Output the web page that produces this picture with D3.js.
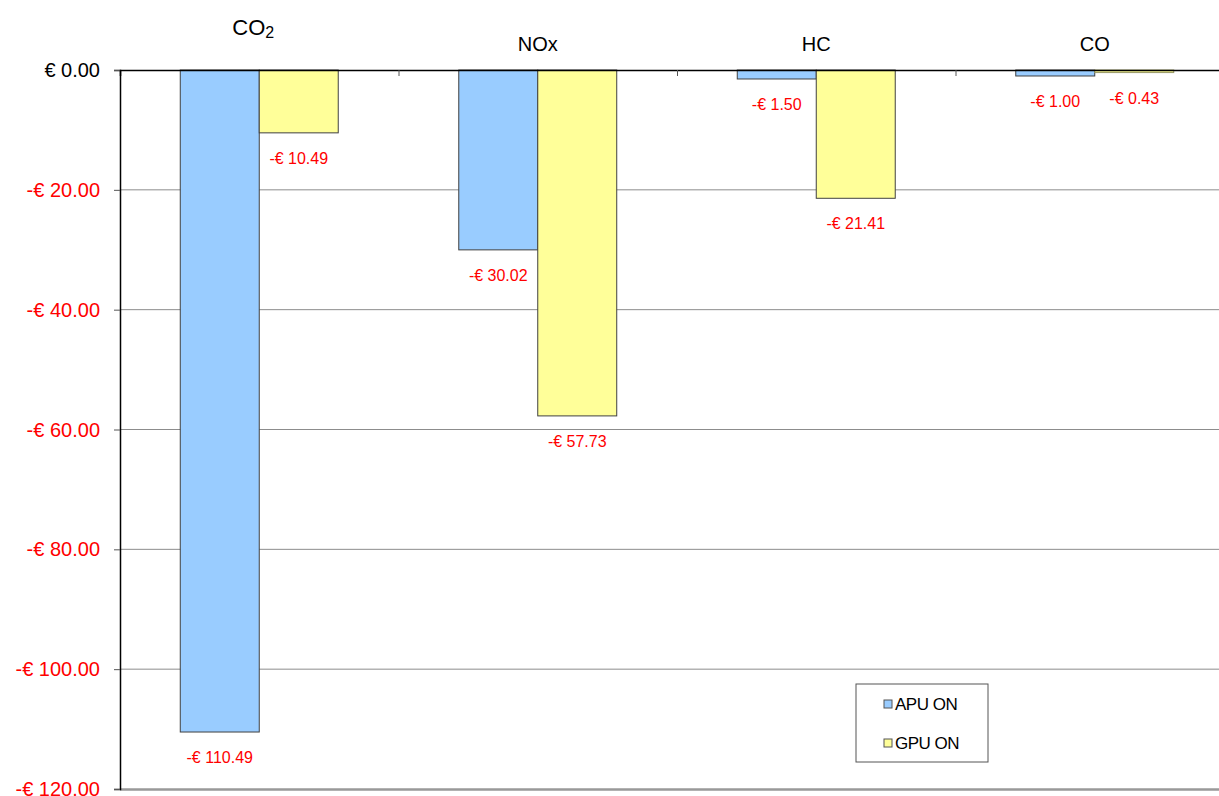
<!DOCTYPE html>
<html>
<head>
<meta charset="utf-8">
<script src="https://cdn.jsdelivr.net/npm/d3@7"></script>
<style>
  body { margin: 0; background: #fff; }
  svg { font-family: "Liberation Sans", Arial, sans-serif; }
</style>
</head>
<body>
<svg id="chart"></svg>
<script>
let categories = ["CO2", "NOx", "HC", "CO"];
let seriesNames = ["APU ON", "GPU ON"];
let apuValues = [-110.49, -30.02, -1.50, -1.00];
let gpuValues = [-10.49, -57.73, -21.41, -0.43];
let yTicks = [0, -20, -40, -60, -80, -100, -120];

let svg = d3.select("svg#chart").attr("width", 1219).attr("height", 796);
let colors = { "APU ON": "#99ccff", "GPU ON": "#ffff99" };

let rows = [];
categories.forEach(function(c, i) {
  rows.push({ cat: c, series: "APU ON", val: apuValues[i] });
  rows.push({ cat: c, series: "GPU ON", val: gpuValues[i] });
});

let x0 = d3.scaleBand().domain(categories).range([120, 1234]).paddingInner(0).paddingOuter(0);
let x1 = d3.scaleBand().domain(seriesNames).range([0, x0.bandwidth()]).paddingInner(0).paddingOuter(0.763);
let y = d3.scaleLinear().domain([0, -120]).range([70, 789]);

let fmt = function(v) {
  let s = "€ " + d3.format(".2f")(Math.abs(v));
  return v < 0 ? "-" + s : s;
};

// gridlines
svg.append("g").selectAll("line").data(yTicks.filter(d => d < 0 && d > -120)).join("line")
  .attr("x1", 120).attr("x2", 1234)
  .attr("y1", d => y(d)).attr("y2", d => y(d))
  .attr("stroke", "#8c8c8c").attr("stroke-width", 1);

// bottom border
svg.append("line").attr("x1", 120).attr("x2", 1234).attr("y1", y(-120) + 0.5).attr("y2", y(-120) + 0.5)
  .attr("stroke", "#999").attr("stroke-width", 2.5);

// bars
svg.append("g").selectAll("rect").data(rows).join("rect")
  .attr("x", d => x0(d.cat) + x1(d.series))
  .attr("y", d => y(0))
  .attr("width", x1.bandwidth())
  .attr("height", d => y(d.val) - y(0))
  .attr("fill", d => colors[d.series])
  .attr("stroke", d => (d.series === "GPU ON" && d.val > -1) ? "#999966" : "#404040")
  .attr("stroke-width", 1);

// value labels
svg.append("g").selectAll("text").data(rows).join("text")
  .attr("x", d => x0(d.cat) + x1(d.series) + x1.bandwidth() / 2)
  .attr("y", d => y(d.val) + 31)
  .attr("text-anchor", "middle")
  .attr("fill", "#ff0000")
  .style("font-size", "16px")
  .text(d => fmt(d.val));

// y axis
let yAxis = d3.axisLeft(y).tickValues(yTicks).tickSize(6).tickFormat("");
let yg = svg.append("g").attr("transform", "translate(120,0)").call(yAxis);
yg.select(".domain").attr("stroke", "#000").attr("stroke-width", 1.5);
yg.selectAll(".tick line").attr("stroke", "#555");

svg.append("g").selectAll("text").data(yTicks).join("text")
  .attr("x", 100).attr("y", d => y(d) + 7)
  .attr("text-anchor", "end")
  .attr("fill", d => d < 0 ? "#ff0000" : "#000")
  .style("font-size", "20px")
  .text(d => fmt(d));

// top axis at zero with category boundary ticks
let xAxis = d3.axisBottom(d3.scaleLinear().domain([0, 4]).range([120, 1234]))
  .tickValues([1, 2, 3]).tickSize(6).tickFormat("");
let xg = svg.append("g").attr("transform", "translate(0," + y(0) + ")").call(xAxis);
xg.select(".domain").attr("stroke", "#000").attr("stroke-width", 1.5);
xg.selectAll(".tick line").attr("stroke", "#555");

// category labels on top
categories.forEach(function(c) {
  let cx = x0(c) + x0.bandwidth() / 2;
  if (c === "CO2") {
    let t = svg.append("text").attr("x", cx - 6).attr("y", 35).attr("text-anchor", "middle")
      .style("font-size", "22px").attr("fill", "#000");
    t.append("tspan").text("CO");
    t.append("tspan").attr("dy", 3).style("font-size", "16px").text("2");
  } else {
    svg.append("text").attr("x", cx).attr("y", 51).attr("text-anchor", "middle")
      .style("font-size", "20px").attr("fill", "#000").text(c);
  }
});

// legend
let lg = svg.append("g").attr("transform", "translate(856,684)");
lg.append("rect").attr("width", 132).attr("height", 78).attr("fill", "#fff")
  .attr("stroke", "#555").attr("stroke-width", 1);
seriesNames.forEach(function(s, i) {
  lg.append("rect").attr("x", 28).attr("y", 16 + i * 39).attr("width", 8).attr("height", 8)
    .attr("fill", colors[s]).attr("stroke", "#555").attr("stroke-width", 1);
  lg.append("text").attr("x", 39).attr("y", 26 + i * 39)
    .style("font-size", "17px").style("letter-spacing", "-0.5px").attr("fill", "#000").text(s);
});
</script>
</body>
</html>
